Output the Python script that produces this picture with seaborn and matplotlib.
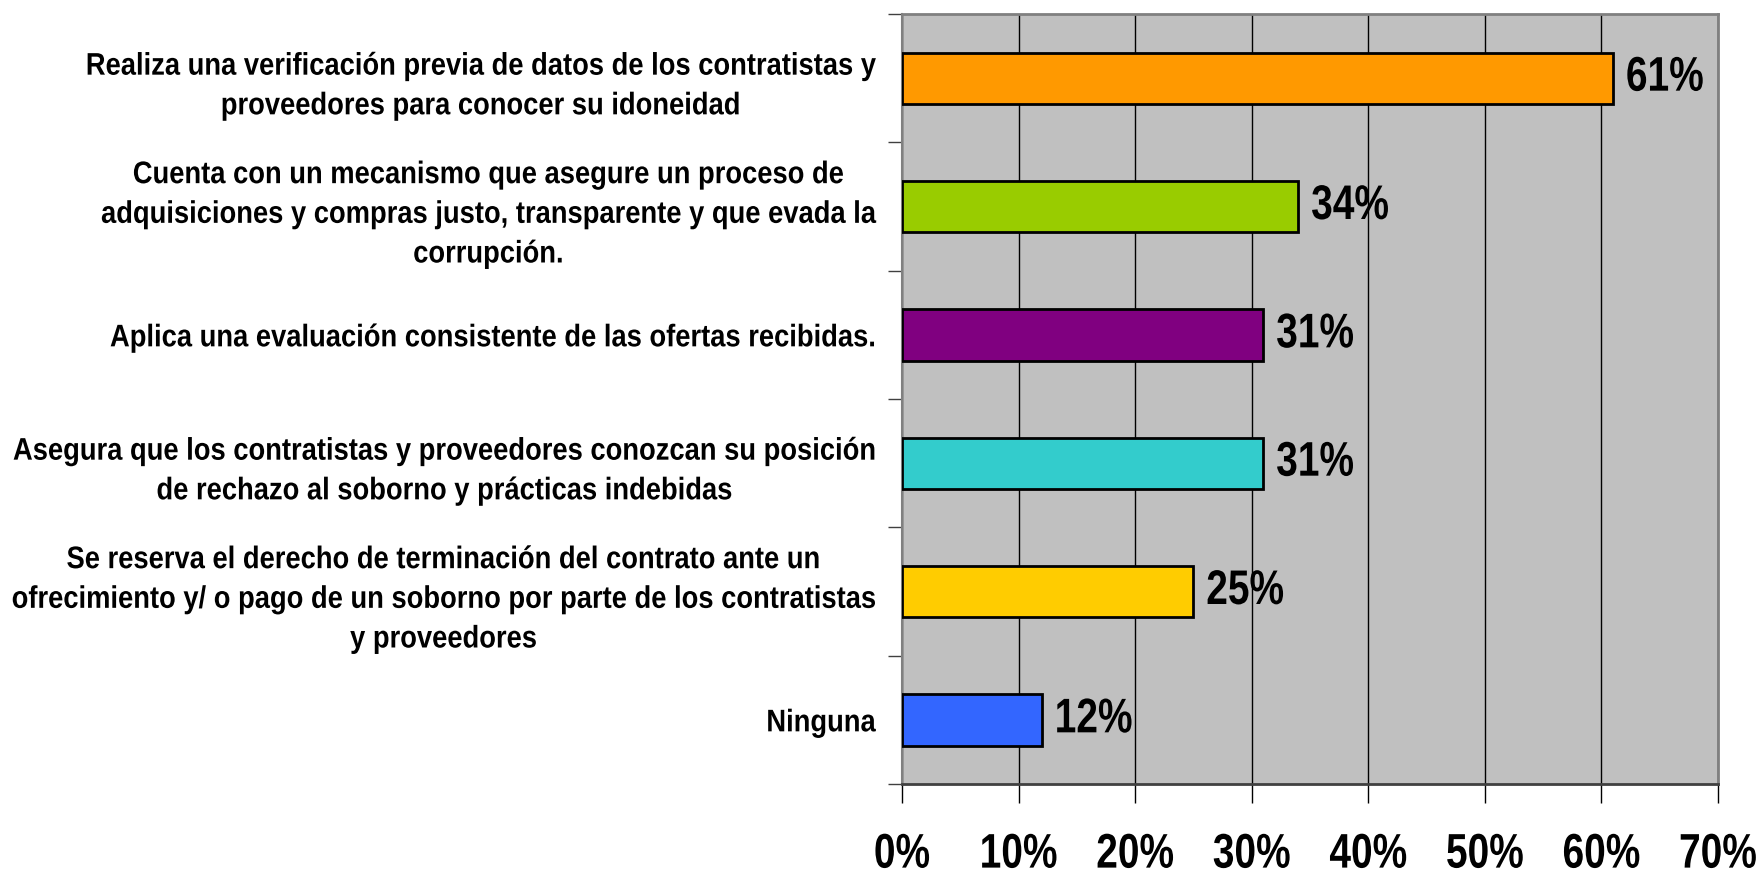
import matplotlib
matplotlib.use("Agg")
import matplotlib.pyplot as plt
from matplotlib import font_manager
from matplotlib.ticker import FuncFormatter, FixedLocator, NullFormatter
from matplotlib.patheffects import AbstractPathEffect
from matplotlib.transforms import Affine2D
import seaborn as sns
import pandas as pd

categories = [
    "Realiza una verificación previa de datos de los contratistas y\nproveedores para conocer su idoneidad",
    "Cuenta con un mecanismo que asegure un proceso de\nadquisiciones y compras justo, transparente y que evada la\ncorrupción.",
    "Aplica una evaluación consistente de las ofertas recibidas.",
    "Asegura que los contratistas y proveedores conozcan su posición\nde rechazo al soborno y prácticas indebidas",
    "Se reserva el derecho de terminación del contrato ante un\nofrecimiento y/ o pago de un soborno por parte de los contratistas\ny proveedores",
    "Ninguna",
]
values = [0.61, 0.34, 0.31, 0.31, 0.25, 0.12]
colors = ["#FF9900", "#99CC00", "#800080", "#33CCCC", "#FFCC00", "#3366FF"]
xticks = [0.0, 0.1, 0.2, 0.3, 0.4, 0.5, 0.6, 0.7]

sns.set_theme(style="white")

names = {f.name for f in font_manager.fontManager.ttflist}
if "Liberation Sans Narrow" in names:
    fam = "Liberation Sans Narrow"
    SQ_LAB, SQ_NUM = 1.06, 0.98
else:
    fam = "Liberation Sans"
    SQ_LAB, SQ_NUM = 0.875, 0.80

plt.rcParams["font.family"] = [fam, "DejaVu Sans"]
plt.rcParams["font.weight"] = "bold"
plt.rcParams["text.color"] = "black"
plt.rcParams["xtick.color"] = "black"
plt.rcParams["ytick.color"] = "black"


class Squeeze(AbstractPathEffect):
    """Compress glyphs horizontally around the text's anchor point (narrow-font look)."""
    def __init__(self, text, sx):
        super().__init__()
        self.text = text
        self.sx = sx

    def draw_path(self, renderer, gc, tpath, affine, rgbFace=None):
        x0, _ = self.text.get_transform().transform(self.text.get_unitless_position())
        aff = affine + Affine2D().translate(-x0, 0).scale(self.sx, 1).translate(x0, 0)
        renderer.draw_path(gc, tpath, aff, rgbFace)


df = pd.DataFrame({"cat": categories, "val": values})

fig = plt.figure(figsize=(17.62, 8.72), dpi=100)
ax = fig.add_axes([902 / 1762, 1 - 784 / 872, (1718 - 902) / 1762, (784 - 14) / 872])
ax.set_facecolor("#C0C0C0")

sns.barplot(data=df, x="val", y="cat", hue="cat", palette=colors, saturation=1, orient="h",
            width=0.4, edgecolor="black", linewidth=2, legend=False, ax=ax, zorder=3)

ax.set_xlim(0, 0.7)
ax.set_ylim(len(categories) - 0.5, -0.5)
ax.xaxis.set_major_locator(FixedLocator(xticks))
ax.xaxis.set_major_formatter(FuncFormatter(lambda v, p: f"{v*100:.0f}%"))
ax.grid(axis="x", color="black", linewidth=1, zorder=0)
ax.grid(axis="y", visible=False)
ax.set_axisbelow(True)

for bar, v in zip(ax.patches, values):
    t = ax.text(bar.get_width() + 0.011, bar.get_y() + bar.get_height() / 2, f"{v*100:.0f}%",
                ha="left", va="center", fontsize=35, fontweight="bold", color="black", zorder=4)
    t.set_path_effects([Squeeze(t, SQ_NUM)])

# category labels
ax.set_yticks(range(len(categories)), labels=categories)
ax.tick_params(axis="y", which="major", length=0, pad=19, labelsize=22.5)
for lab in ax.get_yticklabels():
    lab.set_multialignment("center")
    lab.set_fontweight("bold")
    lab.set_linespacing(1.42)
    lab.set_path_effects([Squeeze(lab, SQ_LAB)])

# tick marks at category boundaries
ax.yaxis.set_minor_locator(FixedLocator([i - 0.5 for i in range(len(categories) + 1)]))
ax.yaxis.set_minor_formatter(NullFormatter())
ax.tick_params(axis="y", which="minor", length=10, width=1, color="#404040", direction="out", left=True)

ax.tick_params(axis="x", which="major", length=14, width=1, color="black", direction="out",
               bottom=True, labelsize=35, pad=21)
for lab in ax.get_xticklabels():
    lab.set_fontweight("bold")
    lab.set_path_effects([Squeeze(lab, SQ_NUM)])

ax.set_xlabel("")
ax.set_ylabel("")
for side in ["top", "right"]:
    ax.spines[side].set_color("#808080")
    ax.spines[side].set_linewidth(2)
ax.spines["left"].set_color("#808080")
ax.spines["left"].set_linewidth(1.5)
ax.spines["bottom"].set_color("#404040")
ax.spines["bottom"].set_linewidth(2)

fig.savefig("out.png", dpi=100, facecolor="white")
